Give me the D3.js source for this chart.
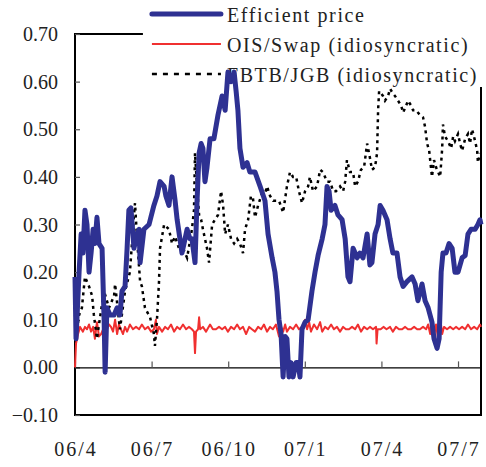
<!DOCTYPE html>
<html>
<head>
<meta charset="utf-8">
<script src="https://cdn.jsdelivr.net/npm/d3@7"></script>
<style>
  body { margin: 0; background: #fff; }
  text { font-family: "Liberation Serif", "Times New Roman", serif; fill: #222; }
</style>
</head>
<body>
<div id="drawingArea"></div>
<script>
// x = months since April 2006
var xTicks = [0, 3, 6, 9, 12, 15];
var xLabels = ["06/4", "06/7", "06/10", "07/1", "07/4", "07/7"];
var yTicks = [-0.1, 0, 0.1, 0.2, 0.3, 0.4, 0.5, 0.6, 0.7];

var seriesNames = ["Efficient price", "OIS/Swap (idiosyncratic)", "FBTB/JGB (idiosyncratic)"];

var efficientPrice = [[0.00,0.19],[0.04,0.06],[0.16,0.20],[0.24,0.28],[0.31,0.24],[0.39,0.33],[0.47,0.30],[0.55,0.20],[0.63,0.24],[0.71,0.29],[0.78,0.26],[0.86,0.315],[0.94,0.26],[1.06,0.25],[1.14,0.10],[1.18,-0.01],[1.25,0.125],[1.37,0.11],[1.53,0.11],[1.65,0.125],[1.76,0.11],[1.84,0.16],[1.96,0.17],[2.04,0.25],[2.11,0.33],[2.19,0.335],[2.31,0.25],[2.43,0.28],[2.51,0.29],[2.55,0.22],[2.70,0.29],[2.90,0.30],[3.09,0.34],[3.21,0.36],[3.33,0.39],[3.49,0.38],[3.56,0.36],[3.68,0.34],[3.80,0.40],[3.92,0.35],[4.00,0.31],[4.11,0.27],[4.19,0.24],[4.31,0.27],[4.39,0.29],[4.50,0.27],[4.58,0.27],[4.70,0.22],[4.78,0.35],[4.86,0.45],[4.94,0.47],[5.01,0.46],[5.09,0.39],[5.17,0.42],[5.29,0.48],[5.44,0.48],[5.60,0.53],[5.76,0.57],[5.88,0.54],[5.99,0.62],[6.11,0.60],[6.23,0.62],[6.31,0.58],[6.38,0.54],[6.46,0.46],[6.58,0.42],[6.74,0.43],[6.85,0.41],[7.05,0.41],[7.25,0.38],[7.44,0.35],[7.56,0.28],[7.72,0.23],[7.83,0.20],[7.91,0.16],[7.99,0.10],[8.07,0.07],[8.15,-0.02],[8.23,0.065],[8.30,0.06],[8.38,-0.02],[8.46,0.01],[8.54,-0.02],[8.66,0.01],[8.74,0.01],[8.81,-0.02],[8.89,0.08],[9.01,0.095],[9.13,0.10],[9.28,0.16],[9.40,0.20],[9.52,0.235],[9.68,0.27],[9.79,0.30],[9.87,0.38],[9.95,0.37],[10.03,0.33],[10.18,0.34],[10.30,0.32],[10.46,0.31],[10.58,0.27],[10.69,0.19],[10.77,0.18],[10.89,0.25],[11.05,0.23],[11.16,0.24],[11.28,0.23],[11.44,0.28],[11.55,0.215],[11.63,0.22],[11.75,0.28],[11.87,0.30],[11.95,0.34],[12.06,0.33],[12.22,0.31],[12.34,0.27],[12.45,0.24],[12.61,0.24],[12.73,0.19],[12.85,0.17],[13.00,0.18],[13.20,0.19],[13.32,0.175],[13.43,0.14],[13.59,0.175],[13.71,0.14],[13.83,0.125],[13.98,0.095],[14.06,0.06],[14.18,0.04],[14.26,0.06],[14.34,0.20],[14.41,0.24],[14.53,0.24],[14.65,0.26],[14.77,0.25],[14.88,0.20],[15.00,0.20],[15.16,0.23],[15.28,0.235],[15.39,0.28],[15.51,0.29],[15.67,0.29],[15.78,0.30],[15.86,0.31],[15.90,0.30]];

var oisSwap = [[0.00,0.00],[0.04,0.05],[0.12,0.07],[0.20,0.085],[0.31,0.075],[0.39,0.085],[0.47,0.08],[0.55,0.09],[0.63,0.075],[0.71,0.085],[0.78,0.06],[0.86,0.095],[0.94,0.065],[1.02,0.07],[1.10,0.08],[1.16,0.105],[1.25,0.08],[1.33,0.09],[1.41,0.085],[1.49,0.075],[1.57,0.10],[1.65,0.07],[1.72,0.09],[1.80,0.08],[1.88,0.07],[1.96,0.085],[2.04,0.075],[2.15,0.09],[2.27,0.08],[2.39,0.085],[2.51,0.08],[2.62,0.09],[2.74,0.08],[2.86,0.085],[2.98,0.075],[3.09,0.08],[3.17,0.10],[3.21,0.07],[3.29,0.085],[3.41,0.075],[3.53,0.085],[3.64,0.08],[3.76,0.09],[3.88,0.075],[4.00,0.085],[4.11,0.08],[4.23,0.09],[4.35,0.08],[4.46,0.085],[4.58,0.08],[4.66,0.075],[4.70,0.03],[4.74,0.075],[4.82,0.08],[4.86,0.105],[4.90,0.08],[5.01,0.085],[5.13,0.075],[5.29,0.09],[5.40,0.08],[5.52,0.08],[5.64,0.085],[5.76,0.08],[5.88,0.085],[5.99,0.075],[6.11,0.085],[6.23,0.08],[6.35,0.09],[6.46,0.08],[6.58,0.085],[6.70,0.07],[6.82,0.085],[6.93,0.08],[7.05,0.075],[7.17,0.085],[7.29,0.08],[7.40,0.09],[7.52,0.075],[7.64,0.085],[7.75,0.08],[7.87,0.09],[7.99,0.065],[8.07,0.085],[8.15,0.075],[8.23,0.09],[8.30,0.075],[8.42,0.085],[8.54,0.08],[8.66,0.09],[8.77,0.08],[8.89,0.085],[9.01,0.10],[9.09,0.08],[9.17,0.095],[9.24,0.075],[9.36,0.09],[9.48,0.08],[9.60,0.095],[9.68,0.075],[9.79,0.085],[9.91,0.08],[10.03,0.09],[10.14,0.08],[10.26,0.085],[10.38,0.075],[10.50,0.085],[10.61,0.08],[10.73,0.08],[10.85,0.085],[10.97,0.08],[11.08,0.09],[11.20,0.075],[11.32,0.085],[11.44,0.08],[11.55,0.085],[11.67,0.08],[11.79,0.085],[11.81,0.05],[11.85,0.08],[11.97,0.08],[12.08,0.085],[12.20,0.08],[12.34,0.085],[12.45,0.075],[12.57,0.085],[12.69,0.08],[12.81,0.08],[12.93,0.085],[13.04,0.08],[13.16,0.08],[13.28,0.085],[13.40,0.08],[13.51,0.08],[13.63,0.085],[13.75,0.08],[13.83,0.09],[13.91,0.07],[13.98,0.105],[14.06,0.065],[14.14,0.09],[14.22,0.06],[14.30,0.105],[14.38,0.07],[14.45,0.085],[14.57,0.08],[14.69,0.085],[14.81,0.08],[14.92,0.085],[15.04,0.08],[15.16,0.085],[15.28,0.08],[15.39,0.09],[15.51,0.08],[15.63,0.085],[15.75,0.08],[15.86,0.09],[15.90,0.085]];

var fbtbJgb = [[0.00,0.11],[0.08,0.08],[0.16,0.11],[0.27,0.125],[0.39,0.19],[0.55,0.17],[0.67,0.15],[0.74,0.11],[0.86,0.06],[0.98,0.105],[1.14,0.16],[1.33,0.125],[1.53,0.15],[1.57,0.175],[1.72,0.10],[1.76,0.08],[1.96,0.16],[2.15,0.20],[2.31,0.32],[2.35,0.345],[2.43,0.27],[2.55,0.18],[2.62,0.17],[2.74,0.125],[2.94,0.105],[3.09,0.07],[3.13,0.045],[3.21,0.10],[3.29,0.18],[3.33,0.25],[3.49,0.30],[3.68,0.29],[3.80,0.26],[3.92,0.275],[4.07,0.25],[4.27,0.245],[4.39,0.23],[4.58,0.29],[4.66,0.33],[4.70,0.45],[4.78,0.38],[4.86,0.32],[4.94,0.31],[5.01,0.29],[5.09,0.27],[5.17,0.25],[5.25,0.22],[5.37,0.30],[5.48,0.31],[5.60,0.32],[5.72,0.37],[5.80,0.34],[5.88,0.28],[5.99,0.30],[6.11,0.27],[6.23,0.26],[6.35,0.27],[6.46,0.26],[6.58,0.24],[6.66,0.29],[6.78,0.31],[6.89,0.36],[6.97,0.355],[7.05,0.315],[7.17,0.34],[7.32,0.365],[7.44,0.365],[7.52,0.38],[7.64,0.36],[7.76,0.35],[7.87,0.35],[7.99,0.35],[8.15,0.325],[8.30,0.38],[8.42,0.41],[8.54,0.40],[8.66,0.40],[8.77,0.37],[8.89,0.345],[9.01,0.37],[9.13,0.38],[9.20,0.40],[9.32,0.37],[9.48,0.38],[9.60,0.415],[9.71,0.41],[9.87,0.39],[9.99,0.39],[10.11,0.37],[10.22,0.37],[10.38,0.38],[10.50,0.37],[10.58,0.39],[10.65,0.435],[10.77,0.41],[10.89,0.41],[10.97,0.38],[11.08,0.39],[11.20,0.415],[11.32,0.42],[11.44,0.47],[11.55,0.44],[11.63,0.415],[11.75,0.42],[11.83,0.45],[11.87,0.54],[11.91,0.58],[11.99,0.575],[12.06,0.57],[12.14,0.56],[12.26,0.57],[12.34,0.585],[12.45,0.575],[12.53,0.57],[12.65,0.56],[12.77,0.55],[12.85,0.535],[12.97,0.55],[13.04,0.56],[13.16,0.55],[13.24,0.54],[13.36,0.54],[13.43,0.535],[13.51,0.53],[13.63,0.525],[13.71,0.505],[13.79,0.47],[13.87,0.455],[13.94,0.42],[13.98,0.40],[14.06,0.435],[14.14,0.42],[14.22,0.41],[14.30,0.40],[14.38,0.46],[14.41,0.51],[14.49,0.485],[14.61,0.475],[14.73,0.46],[14.81,0.485],[14.88,0.475],[15.00,0.49],[15.08,0.47],[15.16,0.455],[15.28,0.48],[15.39,0.49],[15.47,0.47],[15.55,0.50],[15.67,0.475],[15.75,0.455],[15.78,0.43],[15.86,0.45]];

var margin = {top: 34, right: 5, bottom: 52, left: 75},
    width = 486 - margin.left - margin.right,
    height = 467 - margin.top - margin.bottom;

var x = d3.scaleLinear().domain([0, 15.9]).range([0, width]);
var y = d3.scaleLinear().domain([-0.1, 0.7]).range([height, 0]);

var valueline = d3.line()
    .x(function(d) { return x(d[0]); })
    .y(function(d) { return y(d[1]); });

var svg = d3.select("#drawingArea").append("svg")
    .attr("width", 486)
    .attr("height", 467)
  .append("g")
    .attr("transform", "translate(" + margin.left + "," + margin.top + ")");

// plot frame
svg.append("rect")
    .attr("width", width)
    .attr("height", height)
    .attr("fill", "none")
    .attr("stroke", "#000")
    .attr("stroke-width", 2);

// y axis: ticks point inward
var yAxis = svg.append("g")
    .call(d3.axisRight(y).tickValues(yTicks).tickSize(5).tickFormat(""));
yAxis.select(".domain").remove();
yAxis.selectAll("line").attr("stroke", "#555").attr("stroke-width", 1.2);

// y labels
svg.selectAll(".ylab")
    .data(yTicks)
  .enter().append("text")
    .attr("class", "ylab")
    .attr("x", -17)
    .attr("y", function(d) { return y(d); })
    .attr("dy", "0.35em")
    .attr("text-anchor", "end")
    .style("font-size", "20px")
    .text(function(d) { return d3.format(".2f")(d); });

// zero line with upward month ticks
var xAxis = svg.append("g")
    .attr("transform", "translate(0," + y(0) + ")")
    .call(d3.axisTop(x).tickValues(xTicks).tickSize(6).tickSizeOuter(0).tickFormat(""));
xAxis.select(".domain").attr("stroke", "#000").attr("stroke-width", 1.2);
xAxis.selectAll("line").attr("stroke", "#555").attr("stroke-width", 1.2);

// x labels
svg.selectAll(".xlab")
    .data(xTicks)
  .enter().append("text")
    .attr("class", "xlab")
    .attr("x", function(d) { return x(d) + 1; })
    .attr("y", height + 41)
    .attr("text-anchor", "middle")
    .style("font-size", "20px")
    .style("letter-spacing", "2px")
    .text(function(d, i) { return xLabels[i]; });

// legend (white box hides the top-right corner of the frame)
var legend = svg.append("g").attr("transform", "translate(" + (x(2.66)) + "," + (-margin.top) + ")");
legend.append("rect")
    .attr("x", 0).attr("y", 0)
    .attr("width", 486 - margin.left - x(2.66))
    .attr("height", 87)
    .attr("fill", "#fff");

var legendStyles = [
    {color: "#2e3192", w: 5, dash: null},
    {color: "#f03030", w: 2, dash: null},
    {color: "#000", w: 2.5, dash: "5,6"}
];
seriesNames.forEach(function(name, i) {
    var yy = 14 + i * 30;
    legend.append("line")
        .attr("x1", 9).attr("x2", 78)
        .attr("y1", yy).attr("y2", yy)
        .attr("stroke", legendStyles[i].color)
        .attr("stroke-width", legendStyles[i].w)
        .attr("stroke-dasharray", legendStyles[i].dash)
        .attr("stroke-linecap", i == 0 ? "round" : "butt");
    legend.append("text")
        .attr("x", 84)
        .attr("y", yy + 8)
        .style("font-size", "20px")
        .style("letter-spacing", "1.6px")
        .text(name);
});

// series lines
svg.append("path")
    .data([oisSwap])
    .attr("fill", "none")
    .attr("stroke", "#f03030")
    .attr("stroke-width", 2)
    .attr("stroke-linejoin", "round")
    .attr("d", valueline);

svg.append("path")
    .data([fbtbJgb])
    .attr("fill", "none")
    .attr("stroke", "#000")
    .attr("stroke-width", 2.5)
    .attr("stroke-dasharray", "3,4")
    .attr("d", valueline);

svg.append("path")
    .data([efficientPrice])
    .attr("fill", "none")
    .attr("stroke", "#2e3192")
    .attr("stroke-width", 5)
    .attr("stroke-linejoin", "round")
    .attr("d", valueline);
</script>
</body>
</html>
